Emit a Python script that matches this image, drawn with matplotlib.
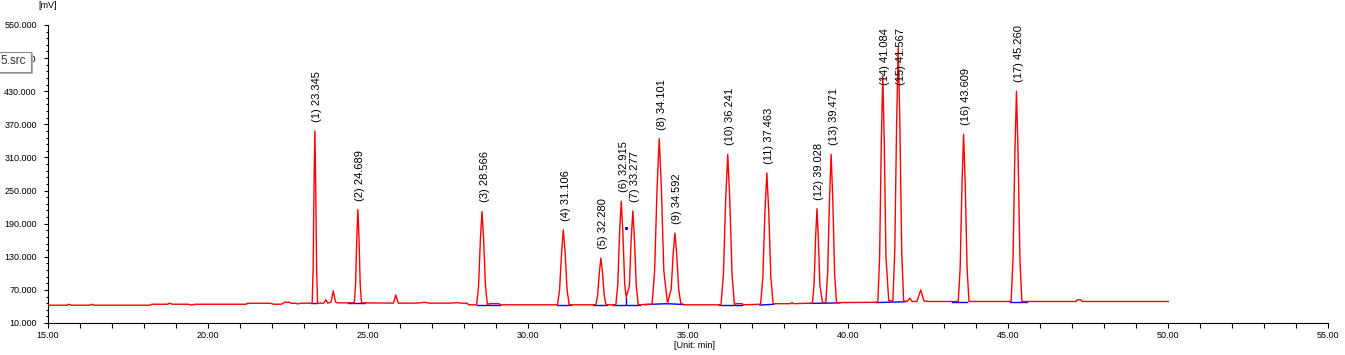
import matplotlib
matplotlib.use("Agg")
import matplotlib.pyplot as plt
from matplotlib.patches import Rectangle
from matplotlib.ticker import MultipleLocator, FormatStrFormatter

plt.rcParams['font.family'] = ['Liberation Sans', 'DejaVu Sans']

# detector trace (time in min, signal in mV)
trace_t = [
    15.00, 15.60, 15.65, 15.75, 16.30, 16.37, 16.45, 18.20, 18.25, 18.75, 18.80, 18.90, 19.40,
    19.50, 19.60, 21.20, 21.25, 21.95, 22.05, 22.30, 22.40, 22.55, 22.60, 22.75, 22.80, 22.90,
    23.261, 23.291, 23.320, 23.345, 23.370, 23.399, 23.429,
    23.62, 23.69, 23.75, 23.85, 23.92, 23.99, 24.05,
    24.577, 24.617, 24.655, 24.689, 24.723, 24.761, 24.801,
    25.80, 25.87, 25.95, 26.50, 26.80, 26.90, 27.60, 27.80, 27.90, 28.10, 28.15,
    28.398, 28.458, 28.515, 28.566, 28.617, 28.674, 28.734, 28.80, 29.10, 29.13,
    30.924, 30.989, 31.051, 31.106, 31.161, 31.223, 31.288,
    32.120, 32.177, 32.232, 32.280, 32.328, 32.383, 32.440,
    32.747, 32.807, 32.864, 32.915, 32.966, 33.023, 33.07, 33.169, 33.226, 33.277, 33.328, 33.385, 33.445,
    33.877, 33.957, 34.033, 34.101, 34.169, 34.245, 34.36, 34.475, 34.537, 34.592, 34.647, 34.709, 34.774, 34.86,
    36.031, 36.106, 36.177, 36.241, 36.305, 36.376, 36.451, 36.50, 36.69, 36.72,
    37.267, 37.337, 37.403, 37.463, 37.523, 37.589, 37.659, 38.20, 38.25, 38.30,
    38.888, 38.938, 38.986, 39.028, 39.070, 39.118, 39.20, 39.303, 39.363, 39.420, 39.471, 39.522,
    39.579, 39.639, 39.75, 40.80,
    40.930, 40.985, 41.037, 41.084, 41.131, 41.183, 41.27, 41.399, 41.459, 41.516, 41.567, 41.618, 41.675, 41.735,
    41.85, 41.93, 42.00, 42.15, 42.27, 42.37, 42.50,
    43.441, 43.501, 43.558, 43.609, 43.660, 43.717, 43.777,
    45.092, 45.152, 45.209, 45.260, 45.311, 45.368, 45.428, 45.60, 47.12, 47.16, 47.27, 47.31, 50.00,
]
trace_mv = [
    42.2, 42.2, 44.0, 42.2, 42.2, 44.0, 42.2, 42.2, 44.0, 44.0, 46.0, 44.0, 44.0,
    42.5, 44.0, 44.0, 45.8, 45.8, 44.0, 44.0, 47.6, 47.6, 45.8, 45.8, 44.5, 45.8,
    46.0, 108.4, 264.4, 358.0, 264.4, 108.4, 46.0,
    46.0, 52.0, 46.0, 48.0, 68.0, 48.0, 46.5,
    46.5, 80.3, 164.8, 215.5, 164.8, 80.3, 46.5,
    46.0, 61.0, 46.0, 46.0, 47.5, 46.0, 46.0, 47.0, 46.0, 45.8, 43.0,
    43.0, 76.8, 161.3, 212.0, 161.3, 76.8, 43.0, 45.0, 45.0, 43.0,
    43.0, 70.2, 138.2, 179.0, 138.2, 70.2, 43.0,
    43.0, 59.9, 102.2, 127.6, 102.2, 59.9, 43.0,
    43.0, 80.5, 174.3, 230.5, 174.3, 80.5, 57.0, 77.0, 162.0, 213.0, 162.0, 77.0, 43.0,
    44.0, 104.0, 254.0, 344.0, 254.0, 104.0, 46.0, 71.4, 134.9, 173.0, 134.9, 71.4, 46.0, 43.0,
    43.0, 97.5, 233.8, 315.5, 233.8, 97.5, 43.0, 45.0, 45.0, 43.0,
    44.0, 91.6, 210.6, 282.0, 210.6, 91.6, 45.0, 45.0, 47.0, 45.0,
    46.0, 80.2, 165.7, 217.0, 165.7, 80.2, 47.0, 47.0, 100.7, 235.0, 315.5, 235.0,
    100.7, 47.0, 47.0, 47.5,
    48.0, 130.0, 335.0, 458.0, 335.0, 130.0, 50.5, 50.0, 141.0, 371.0, 509.0, 371.0, 141.0, 50.0,
    49.0, 55.0, 49.0, 49.0, 70.0, 50.0, 49.0,
    49.0, 109.6, 261.1, 352.0, 261.1, 109.6, 49.0,
    49.0, 125.2, 315.7, 430.0, 315.7, 125.2, 49.0, 49.0, 49.0, 52.0, 52.0, 49.0, 49.0,
]

# integrated peaks: retention time and apex height
peak_rt = [23.345, 24.689, 28.566, 31.106, 32.280, 32.915, 33.277, 34.101, 34.592,
           36.241, 37.463, 39.028, 39.471, 41.084, 41.567, 43.609, 45.260]
peak_mv = [358.0, 215.5, 212.0, 179.0, 127.6, 230.5, 213.0, 344.0, 173.0,
           315.5, 282.0, 217.0, 315.5, 458.0, 509.0, 352.0, 430.0]

# integration baselines (blue)
bl_start = [23.22, 24.39, 28.40, 30.90, 32.03, 32.67, 33.67, 34.36, 35.98, 37.24, 38.82, 40.88, 43.25, 45.07]
bl_end = [23.42, 24.92, 29.13, 31.35, 32.46, 33.49, 34.36, 34.86, 36.69, 37.68, 39.75, 41.79, 43.72, 45.59]
bl_v0 = [46.0, 46.0, 42.5, 42.5, 42.5, 42.5, 43.5, 45.0, 42.5, 42.5, 45.5, 47.0, 48.0, 48.5]
bl_v1 = [46.0, 46.0, 42.5, 42.5, 42.5, 42.5, 45.0, 43.5, 42.5, 44.0, 46.5, 48.5, 48.0, 48.5]
drop_t = [33.07]
drop_lo = [42.5]
drop_hi = [57.0]

y_ticks = [10, 70, 130, 190, 250, 310, 370, 430, 490, 550]

W, H = 1345, 355
fig = plt.figure(figsize=(W / 100, H / 100), dpi=100)
ax = fig.add_axes([47.7 / W, 32 / H, (1328.3 - 47.7) / W, 298 / H])

for s, e, v0, v1 in zip(bl_start, bl_end, bl_v0, bl_v1):
    ax.plot([s, e], [v0, v1], color='#0000ff', lw=1.0, zorder=2)
ax.vlines(drop_t, drop_lo, drop_hi, color='#0000ff', lw=1.0, zorder=2)
ax.plot([33.05], [183], marker='s', ms=1.2, color='#0000ff', zorder=2)

ax.plot(trace_t, trace_mv, color='#ff0000', lw=1.0, zorder=3)

for i, (rt, mv) in enumerate(zip(peak_rt, peak_mv)):
    label = "(%d) %.3f" % (i + 1, rt)
    if mv > 440:
        # label would run past the top, so it is pinned there
        ax.annotate(label, xy=(rt, 0.99), xycoords=('data', 'axes fraction'),
                    xytext=(1.8, 0), textcoords='offset points',
                    rotation=90, ha='center', va='top', fontsize=8, zorder=4)
    else:
        ax.annotate(label, xy=(rt, mv), xytext=(1.8, 6.5), textcoords='offset points',
                    rotation=90, ha='center', va='bottom', fontsize=8, zorder=4)

ax.set_xlim(15, 55)
ax.set_ylim(10, 550)
ax.xaxis.set_major_locator(MultipleLocator(5))
ax.xaxis.set_minor_locator(MultipleLocator(1))
ax.set_yticks(y_ticks)
ax.set_yticks([v + 12 * k for v in y_ticks[:-1] for k in range(1, 5)], minor=True)
ax.xaxis.set_major_formatter(FormatStrFormatter('%.2f'))
ax.yaxis.set_major_formatter(FormatStrFormatter('%.3f'))
ax.spines['top'].set_visible(False)
ax.spines['right'].set_visible(False)
ax.tick_params(axis='x', which='both', direction='out', length=3.6, width=0.8, labelsize=6.5, pad=2.5)
ax.tick_params(axis='y', which='major', direction='out', length=2.9, width=0.8, labelsize=6.5, pad=5)
ax.tick_params(axis='y', which='minor', direction='out', length=1.8, width=0.8)

fig.text(48 / W, 1 - 6 / H, "[mV]", ha='center', va='center', fontsize=6.5)
fig.text(694 / W, 1 - 345 / H, "[Unit: min]", ha='center', va='center', fontsize=6.5)

# file tag box hanging off the left edge
shadow = Rectangle((-0.01, 1 - 73.5 / H), (32.5 / W) + 0.01, 20 / H, transform=fig.transFigure,
                   facecolor='#b0b0b0', edgecolor='none', zorder=10)
box = Rectangle((-0.01, 1 - 71.7 / H), (30.7 / W) + 0.01, 20 / H, transform=fig.transFigure,
                facecolor='white', edgecolor='#8c8c8c', lw=0.8, zorder=11)
fig.add_artist(shadow)
fig.add_artist(box)
fig.text(26 / W, 1 - 61.5 / H, "5.src", ha='right', va='center', fontsize=8.5,
         color='#333333', zorder=12)

fig.savefig("out.png", dpi=100)
